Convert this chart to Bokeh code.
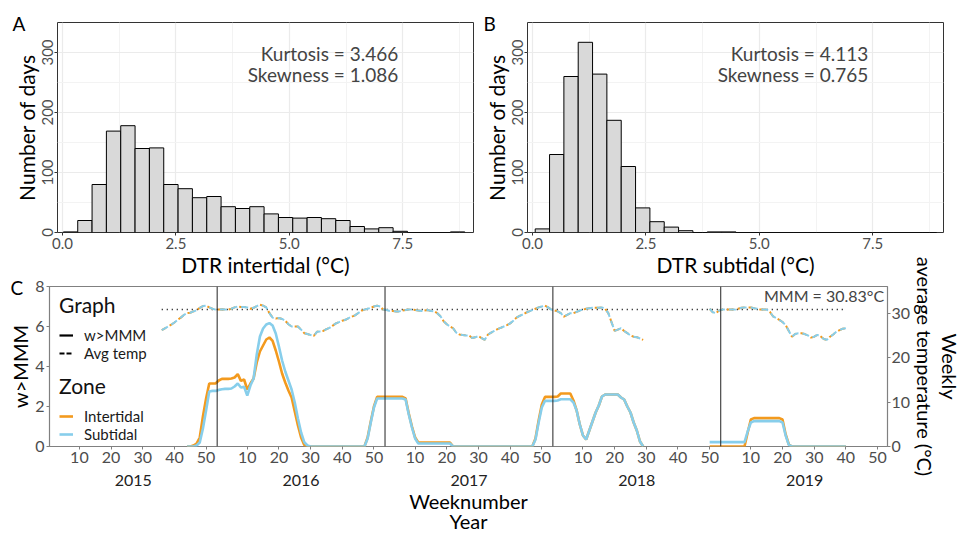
import numpy as np
from bokeh.plotting import figure
from bokeh.models import (Range1d, LinearAxis, FixedTicker, Label, Span, Legend,
                          LegendItem, NumeralTickFormatter, Title)
from bokeh.layouts import column, row
from bokeh.embed import file_html
from bokeh.resources import INLINE

FONT = "Lato"
TICK_GREY = "#4D4D4D"

# ---------------- Panels A / B : DTR histograms ----------------
bin_width = 0.316
a_bin_start = 0.02
a_counts = [1, 20, 80, 169, 178, 140, 141, 80, 73, 58, 60, 43, 40, 43, 31,
            25, 24, 25, 23, 20, 10, 6, 8, 2, 0, 0, 0, 1]
b_bin_start = 0.06
b_counts = [6, 130, 260, 317, 264, 187, 110, 41, 18, 9, 3, 0, 1, 1, 0,
            0, 0, 0, 0, 0, 0, 0, 0, 0, 0, 0, 0, 0]
a_stats = ["Kurtosis = 3.466", "Skewness = 1.086"]
b_stats = ["Kurtosis = 4.113", "Skewness = 0.765"]
hist_x_ticks = [0, 2.5, 5, 7.5]
hist_x_minor = [1.25, 3.75, 6.25, 8.75]
hist_y_ticks = [0, 100, 200, 300]
hist_y_minor = [50, 150, 250, 350]

# ---------------- Panel C : weeks above MMM and weekly temperature ----------------
WEEKS_PER_YEAR = 53
years = [2015, 2016, 2017, 2018, 2019]
week_ticks = [10, 20, 30, 40, 50]
year_label_week = 27
MMM = 30.83

# segment starts as (year, week)
temp_seg1_start = (2015, 36)
temp_seg2_start = (2018, 50)
w_seg1_start = (2015, 44)
w_seg2_start = (2018, 50)

temp_inter_seg1 = [
    26.2, 26.6, 27.0, 27.4, 27.9, 28.5, 29.0, 29.6, 30.0, 30.1,
    30.4, 30.6, 31.2, 31.6, 31.7, 31.3, 31.0, 30.8, 30.8, 30.9,
    30.8, 30.8, 31.0, 31.3, 31.5, 31.4, 31.4, 31.3, 31.0, 31.2,
    31.6, 31.9, 31.7, 31.3, 30.0, 29.0, 28.8, 28.9, 28.7, 28.3,
    27.5, 27.0, 27.0, 27.0, 26.3, 25.5, 25.3, 25.1, 24.9, 25.8,
    25.9, 26.0, 26.4, 26.7, 27.2, 27.7, 28.0, 28.3, 28.5, 28.9,
    29.2, 29.5, 30.0, 30.5, 30.8, 31.0, 31.2, 31.5, 31.7, 31.5,
    30.8, 30.7, 30.5, 30.5, 30.4, 30.4, 30.6, 30.7, 30.8, 30.8,
    30.7, 30.6, 30.5, 30.6, 30.7, 30.5, 30.4, 30.0, 29.3, 28.2,
    27.5, 27.0, 26.6, 25.6, 25.2, 25.1, 25.0, 25.0, 24.4, 24.6,
    24.8, 24.4, 24.0, 25.2, 25.6, 26.0, 26.4, 26.7, 27.0, 27.3,
    27.7, 28.3, 29.0, 29.4, 29.7, 30.1, 30.4, 30.7, 31.0, 31.3,
    31.5, 31.7, 31.3, 30.8, 30.6, 30.4, 30.0, 29.2, 29.6, 30.0,
    30.0, 30.3, 30.6, 30.8, 31.0, 31.1, 31.2, 31.2, 31.2, 31.3,
    31.0, 30.0, 28.0, 26.0, 26.3, 26.6, 26.0, 25.5, 25.0, 24.7,
    24.6, 24.3, 24.0]
temp_inter_seg2 = [
    31.0, 30.2, 30.0, 30.6, 30.8, 30.8, 30.8, 30.8, 30.8, 31.0,
    31.2, 31.3, 31.3, 31.3, 31.1, 31.0, 30.8, 30.8, 30.8, 30.3,
    29.3, 28.9, 28.5, 28.0, 27.3, 26.0, 24.7, 25.3, 25.5, 25.5,
    25.3, 25.0, 24.5, 24.7, 25.1, 24.8, 24.2, 24.0, 24.7, 25.2,
    25.8, 26.2, 26.5, 26.6]
# the subtidal weekly means are indistinguishable from the intertidal ones at this scale
temp_sub_seg1 = list(temp_inter_seg1)
temp_sub_seg2 = list(temp_inter_seg2)

w_inter_seg1 = [
    0, 0, 0.05, 0.15, 0.45, 1.5, 2.4, 3.15, 3.15, 3.15,
    3.3, 3.38, 3.38, 3.38, 3.4, 3.45, 3.62, 3.28, 3.35, 2.85,
    3.15, 3.4, 4.2, 4.75, 5.05, 5.35, 5.45, 5.28, 4.8, 4.25,
    3.65, 3.2, 2.8, 2.45, 1.75, 1.05, 0.45, 0.08, 0, 0,
    0, 0, 0, 0, 0, 0, 0, 0, 0, 0,
    0, 0, 0, 0, 0, 0, 0, 0.45, 1.25, 2.0,
    2.48, 2.48, 2.48, 2.48, 2.48, 2.48, 2.48, 2.48, 2.48, 2.4,
    1.65, 1.0, 0.45, 0.2, 0.2, 0.2, 0.2, 0.2, 0.2, 0.2,
    0.2, 0.2, 0.2, 0.2, 0, 0, 0, 0, 0, 0,
    0, 0, 0, 0, 0, 0, 0, 0, 0, 0,
    0, 0, 0, 0, 0, 0, 0, 0, 0, 0,
    0.4, 1.3, 2.1, 2.48, 2.48, 2.48, 2.48, 2.5, 2.65, 2.65,
    2.65, 2.65, 2.3, 1.8, 1.1, 0.55, 0.35, 0.8, 1.25, 1.7,
    2.05, 2.5, 2.6, 2.6, 2.6, 2.6, 2.6, 2.45, 2.35, 2.0,
    1.7, 1.2, 0.8, 0.25, 0]
w_sub_seg1 = [
    0, 0, 0, 0.05, 0.2, 0.9, 1.8, 2.75, 2.78, 2.78,
    2.83, 2.86, 2.88, 2.88, 2.9, 3.0, 3.15, 2.95, 2.98, 2.55,
    3.05, 3.4, 4.6, 5.5, 5.9, 6.1, 6.17, 6.05, 5.65, 5.0,
    4.3, 3.75, 3.3, 2.85, 2.2, 1.4, 0.7, 0.22, 0.05, 0,
    0, 0, 0, 0, 0, 0, 0, 0, 0, 0,
    0, 0, 0, 0, 0, 0, 0, 0.4, 1.2, 1.95,
    2.4, 2.4, 2.4, 2.4, 2.4, 2.4, 2.4, 2.4, 2.4, 2.35,
    1.6, 0.95, 0.4, 0.15, 0.15, 0.15, 0.15, 0.15, 0.15, 0.15,
    0.15, 0.15, 0.15, 0.15, 0, 0, 0, 0, 0, 0,
    0, 0, 0, 0, 0, 0, 0, 0, 0, 0,
    0, 0, 0, 0, 0, 0, 0, 0, 0, 0,
    0.35, 1.2, 1.95, 2.28, 2.28, 2.28, 2.28, 2.3, 2.36, 2.36,
    2.36, 2.36, 2.2, 1.8, 1.1, 0.55, 0.35, 0.8, 1.25, 1.7,
    2.05, 2.5, 2.6, 2.6, 2.6, 2.6, 2.6, 2.45, 2.35, 2.0,
    1.7, 1.2, 0.8, 0.25, 0]
w_inter_seg2 = [
    0, 0, 0, 0, 0, 0, 0, 0, 0, 0,
    0, 0, 0.7, 1.35, 1.42, 1.42, 1.42, 1.42, 1.42, 1.42,
    1.42, 1.42, 1.42, 1.35, 0.6, 0.1, 0, 0, 0, 0,
    0, 0, 0, 0, 0, 0, 0, 0, 0, 0,
    0, 0, 0, 0]
w_sub_seg2 = [
    0.22, 0.22, 0.22, 0.22, 0.22, 0.22, 0.22, 0.22, 0.22, 0.22,
    0.22, 0.22, 0.75, 1.2, 1.27, 1.27, 1.27, 1.27, 1.27, 1.27,
    1.27, 1.27, 1.27, 1.2, 0.55, 0.08, 0, 0, 0, 0,
    0, 0, 0, 0, 0, 0, 0, 0, 0, 0,
    0, 0, 0, 0]

ORANGE = "#F39A1E"
BLUE = "#87CEEB"


def week_index(year, week):
    return (year - years[0]) * WEEKS_PER_YEAR + week


def series(seg_a, start_a, seg_b, start_b):
    xa = week_index(*start_a) + np.arange(len(seg_a))
    xb = week_index(*start_b) + np.arange(len(seg_b))
    x = np.concatenate([xa, [np.nan], xb])
    y = np.concatenate([np.array(seg_a, float), [np.nan], np.array(seg_b, float)])
    return x, y


def style_common(p):
    p.background_fill_color = "white"
    for ax in p.axis:
        ax.major_label_text_font = FONT
        ax.major_label_text_color = TICK_GREY
        ax.axis_label_text_font = FONT
        ax.axis_label_text_font_style = "normal"
        ax.axis_label_text_color = "black"
        ax.minor_tick_line_color = None


def panel_letter(p, letter, offset, standoff):
    p.add_layout(Title(text=letter, align="left", offset=offset, standoff=standoff,
                       text_font=FONT, text_font_size="19px", text_font_style="normal",
                       text_color="black"), "above")


def hist_panel(counts, start, xlabel, stats, letter, width, mbl, mbr, letter_offset):
    p = figure(width=width, height=279, x_range=Range1d(-0.11, 9.06),
               y_range=Range1d(0, 350), output_backend="svg", toolbar_location=None,
               min_border_left=mbl, min_border_right=mbr, min_border_top=22,
               min_border_bottom=47)
    p.border_fill_color = "white"
    left = start + bin_width * np.arange(len(counts))
    p.quad(left=left, right=left + bin_width, bottom=0, top=counts,
           fill_color="#D9D9D9", line_color="black", line_width=1)
    p.xaxis.ticker = FixedTicker(ticks=hist_x_ticks, minor_ticks=hist_x_minor)
    p.yaxis.ticker = FixedTicker(ticks=hist_y_ticks, minor_ticks=hist_y_minor)
    p.xaxis.formatter = NumeralTickFormatter(format="0.0")
    p.xaxis.axis_label = xlabel
    p.yaxis.axis_label = "Number of days"
    p.yaxis.major_label_orientation = "vertical"
    for g in (p.xgrid, p.ygrid):
        g.grid_line_color = "#EBEBEB"
        g.grid_line_width = 1.2
        g.minor_grid_line_color = "#F3F3F3"
        g.minor_grid_line_width = 1
    p.outline_line_color = "#333333"
    p.outline_line_width = 1
    style_common(p)
    for ax in p.axis:
        ax.axis_line_color = None
        ax.major_tick_line_color = "#333333"
        ax.major_tick_out = 3
        ax.major_tick_in = 0
        ax.major_label_standoff = 1
        ax.major_label_text_font_size = "15px"
        ax.axis_label_text_font_size = "21px"
        ax.axis_label_standoff = 0
    p.xaxis.axis_label_text_line_height = 0.85
    p.add_layout(Label(x=7.4, y=298, text=stats[0], text_align="right",
                       text_baseline="middle", text_font=FONT, text_font_size="19px"))
    p.add_layout(Label(x=7.4, y=263, text=stats[1], text_align="right",
                       text_baseline="middle", text_font=FONT, text_font_size="19px"))
    panel_letter(p, letter, letter_offset, -24)
    return p


pA = hist_panel(a_counts, a_bin_start, "DTR intertidal (°C)", a_stats, "A", 478, 57, 5, -45)
pB = hist_panel(b_counts, b_bin_start, "DTR subtidal (°C)", b_stats, "B", 487, 49, 22, -44)

# ---------------- Panel C ----------------
# panel C's canvas overlaps the (empty) bottom strip of the top row so that its long
# right-hand axis title has room; its border is transparent.
pC = figure(width=965, height=283, x_range=Range1d(0.56, 265.15), y_range=Range1d(0, 8),
            output_backend="svg", toolbar_location=None, min_border_left=49,
            min_border_right=75, min_border_top=32, min_border_bottom=91)
pC.border_fill_alpha = 0
pC.styles = {"margin-top": "-25px"}
pC.extra_y_ranges = {"temp": Range1d(0, 36)}
pC.xgrid.visible = False
pC.ygrid.visible = False
pC.outline_line_color = "#808080"
pC.outline_line_width = 1.2

xt, ti = series(temp_inter_seg1, temp_seg1_start, temp_inter_seg2, temp_seg2_start)
_, ts = series(temp_sub_seg1, temp_seg1_start, temp_sub_seg2, temp_seg2_start)
xw, wi = series(w_inter_seg1, w_seg1_start, w_inter_seg2, w_seg2_start)
_, ws = series(w_sub_seg1, w_seg1_start, w_sub_seg2, w_seg2_start)

# MMM reference line over the span of the temperature record
pC.line(x=[np.nanmin(xt), np.nanmax(xt)], y=[MMM, MMM], y_range_name="temp",
        line_color="black", line_width=1.5, line_dash="1 4")

for k in range(1, len(years)):
    pC.add_layout(Span(location=k * WEEKS_PER_YEAR + 0.5, dimension="height",
                       line_color="#222222", line_width=1))

pC.line(xt, ti, y_range_name="temp", line_color=ORANGE, line_width=2,
        line_dash="7 4", line_dash_offset=2)
pC.line(xt, ts, y_range_name="temp", line_color=BLUE, line_width=2, line_dash="7 4")
r_int = pC.line(xw, wi, line_color=ORANGE, line_width=2.6)
r_sub = pC.line(xw, ws, line_color=BLUE, line_width=2.6)

# legend key renderers (nothing drawn in the plot area)
r_solid = pC.line(x=[np.nan], y=[np.nan], line_color="black", line_width=2.2)
r_dash = pC.line(x=[np.nan], y=[np.nan], line_color="black", line_width=2.2, line_dash="5 2")

week_pos = [week_index(y, w) for y in years for w in week_ticks]
pC.xaxis.ticker = FixedTicker(ticks=week_pos)
pC.xaxis.major_label_overrides = {int(week_index(y, w)): str(w) for y in years for w in week_ticks}
pC.yaxis.ticker = FixedTicker(ticks=[0, 2, 4, 6, 8])
pC.yaxis.axis_label = "w>MMM"

year_axis = LinearAxis(ticker=FixedTicker(ticks=[week_index(y, year_label_week) for y in years]),
                       major_label_overrides={int(week_index(y, year_label_week)): str(y) for y in years},
                       axis_line_color=None, major_tick_line_color=None,
                       axis_label="Weeknumber\nYear")
pC.add_layout(year_axis, "below")

temp_axis = LinearAxis(y_range_name="temp", ticker=FixedTicker(ticks=[0, 10, 20, 30]),
                       axis_label="Weekly\naverage temperature (°C)")
pC.add_layout(temp_axis, "right")

style_common(pC)
for ax in pC.axis:
    ax.axis_line_color = None
    ax.major_label_text_font_size = "16px"
    ax.axis_label_text_font_size = "20px"
    ax.axis_label_text_line_height = 0.87
    ax.major_label_standoff = 2
    ax.axis_label_standoff = 0
temp_axis.axis_label_text_line_height = 1.05
temp_axis.major_label_standoff = 1
for ax in [pC.xaxis[0], pC.yaxis[0], temp_axis]:
    ax.major_tick_line_color = "#7F7F7F"
    ax.major_tick_out = 3
    ax.major_tick_in = 0
year_axis.major_tick_out = 0
year_axis.major_tick_in = 0
year_axis.major_label_standoff = 9
year_axis.axis_label_standoff = 0
year_axis.major_label_text_color = "#222222"

leg_kw = dict(title_text_font=FONT, title_text_font_size="21px", title_text_font_style="normal",
              title_text_color="#111111", label_text_font=FONT, label_text_font_size="15px",
              label_text_color="#1A1A1A", glyph_width=14, glyph_height=10, label_standoff=11,
              label_height=14, spacing=-11, padding=2, margin=0, border_line_color=None,
              background_fill_alpha=0, title_standoff=9)
leg1 = Legend(items=[LegendItem(label="w>MMM", renderers=[r_solid]),
                     LegendItem(label="Avg temp", renderers=[r_dash])],
              title="Graph", location=(10, 84), **leg_kw)
leg2 = Legend(items=[LegendItem(label="Intertidal", renderers=[r_int]),
                     LegendItem(label="Subtidal", renderers=[r_sub])],
              title="Zone", location=(10, 3), **leg_kw)
pC.add_layout(leg1)
pC.add_layout(leg2)

pC.add_layout(Label(x=264.1, y=7.54, text="MMM = 30.83°C",
                    text_align="right", text_baseline="middle", text_font=FONT,
                    text_font_size="16px"))
panel_letter(pC, "C", -39, -24)

layout = column(row(pA, pB, spacing=0), pC, spacing=0)
open("out.html", "w").write(file_html(layout, INLINE))
